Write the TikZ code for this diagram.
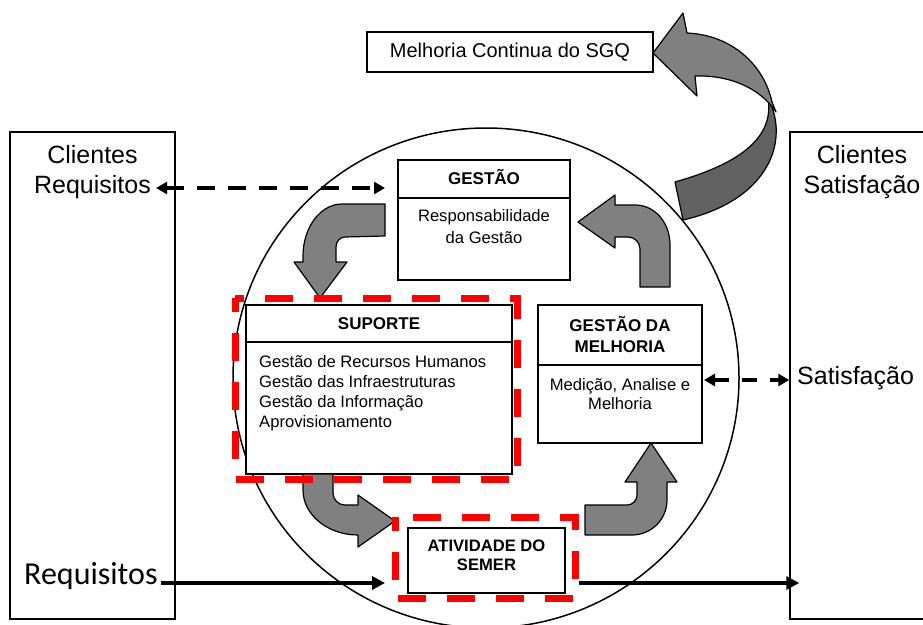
\documentclass[tikz,border=0pt]{standalone}
\usepackage{fontspec}
\setmainfont{Liberation Sans}
\newfontfamily\calibfont{Carlito}
\usetikzlibrary{arrows.meta}
\definecolor{blockgray}{RGB}{128,128,128}
\definecolor{blockdark}{RGB}{98,98,98}
\definecolor{markred}{RGB}{255,0,0}

\begin{document}
\begin{tikzpicture}[x=1pt,y=-1pt,
  frame/.style={draw, line width=1.5pt, fill=white, inner sep=0pt},
  stepbox/.style={draw, line width=2pt, fill=white, inner sep=0pt},
  blockarrow/.style={draw, line width=1.2pt, fill=blockgray, line join=round},
  focus/.style={draw=markred, line width=7pt, dash pattern=on 28pt off 21pt, dash phase=14pt},
  txt/.style={inner sep=0pt, anchor=base},
  txtw/.style={inner sep=0pt, anchor=base west},
  bigfont/.style={font=\fontsize{25}{30}\selectfont},
  bodyfont/.style={font=\fontsize{16.6}{20}\selectfont},
  headfont/.style={font=\fontsize{17}{21}\selectfont\bfseries},
  flow/.style={line width=4pt, -{Triangle[length=13pt,width=13pt]}},
  dashflowA/.style={line width=3.5pt, dash pattern=on 18pt off 13pt,
    {Triangle[length=11pt,width=12pt]}-{Triangle[length=11pt,width=12pt]}},
  dashflowB/.style={line width=3.5pt, dash pattern=on 15pt off 13pt,
    {Triangle[length=11pt,width=12pt]}-{Triangle[length=11pt,width=12pt]}},
]
\useasboundingbox (0,0) rectangle (923,624);
\clip (0,0) rectangle (923,624);
\fill[white] (0,0) rectangle (923,624);

% outer client boxes
\node[frame, minimum width=165pt, minimum height=487pt] (lbox) at (92.5,375.5) {};
\node[frame, minimum width=160pt, minimum height=487pt] (rbox) at (870,375.5) {};
\node[txt, bigfont] (lcl) at (92.5,163) {Clientes};
\node[txt, bigfont] (reqt) at (92.5,193) {Requisitos};
\node[txt, bigfont] (rcl) at (862,163) {Clientes};
\node[txt, bigfont] (rsat) at (862,193) {Satisfação};
\node[txtw, bigfont] (sat) at (797,384) {Satisfação};
\node[txtw, font=\calibfont\fontsize{32}{38}\selectfont] (reqb) at (24,584) {Requisitos};

% process circle
\draw[line width=1.5pt] (486,378) ellipse [x radius=253pt, y radius=250pt];

% continual improvement box
\node[draw, line width=2.5pt, fill=white, minimum width=286pt, minimum height=40pt,
      inner sep=0pt, font=\fontsize{20}{24}\selectfont] (mcs) at (510,52) {Melhoria Continua do SGQ};

% twisted improvement arrow
\fill[blockdark, draw=black, line width=1.2pt, line join=round]
  (768,98) .. controls (790,140) and (770,200) .. (683,220)
  -- (675,182) .. controls (735,165) and (775,140) .. (768,98) -- cycle;
\fill[blockgray, draw=black, line width=1.2pt, line join=round]
  (687,33) .. controls (732,35) and (764,65) .. (772,102)
  -- (776,112) .. controls (760,88) and (730,75) .. (695,76)
  -- (697,96) -- (653,53) -- (683,13) -- cycle;

% process boxes
\node[stepbox, minimum width=172pt, minimum height=120pt] (gestao) at (484,220) {};
\draw[line width=2pt] ([yshift=-39pt]gestao.north west) -- ([yshift=-39pt]gestao.north east);
\node[txt, headfont] (g1) at (484,184) {GESTÃO};
\node[txt, bodyfont] (g2) at (484,221) {Responsabilidade};
\node[txt, bodyfont] (g3) at (484,243) {da Gestão};

\node[stepbox, minimum width=266pt, minimum height=169pt] (suporte) at (379,389.5) {};
\draw[line width=2pt] ([yshift=-38pt]suporte.north west) -- ([yshift=-38pt]suporte.north east);
\node[txt, headfont] (s0) at (379,329) {SUPORTE};
\node[txtw, bodyfont] (s1) at (259,367) {Gestão de Recursos Humanos};
\node[txtw, bodyfont] (s2) at (259,387) {Gestão das Infraestruturas};
\node[txtw, bodyfont] (s3) at (259,407) {Gestão da Informação};
\node[txtw, bodyfont] (s4) at (259,427) {Aprovisionamento};

\node[stepbox, minimum width=164pt, minimum height=138pt] (melhoria) at (620,374) {};
\draw[line width=2pt] ([yshift=-61pt]melhoria.north west) -- ([yshift=-61pt]melhoria.north east);
\node[txt, headfont] (m1) at (620,331) {GESTÃO DA};
\node[txt, headfont] (m2) at (620,352) {MELHORIA};
\node[txt, bodyfont] (m3) at (620,390) {Medição, Analise e};
\node[txt, bodyfont] (m4) at (620,409) {Melhoria};

\node[stepbox, minimum width=157pt, minimum height=65pt] (atv) at (486.5,560.5) {};
\node[txt, font=\fontsize{16.6}{20}\selectfont\bfseries] (a1) at (486.5,551) {ATIVIDADE DO};
\node[txt, font=\fontsize{16.6}{20}\selectfont\bfseries] (a2) at (486.5,570) {SEMER};

% cycle arrows between the boxes
\path[blockarrow] % GESTAO -> SUPORTE
  (385,204) -- (342,204) .. controls (320.5,204) and (303,227.3) .. (303,256)
  -- (303,262) -- (294,262) -- (320,298) -- (347,262) -- (336,262) -- (336,247)
  .. controls (336,241.5) and (340,237) .. (345,237) -- (385,236) -- cycle;
\path[blockarrow] % SUPORTE -> ATIVIDADE
  (303,474) -- (303,490) .. controls (303,514.8) and (327.6,535) .. (358,535)
  -- (358,547) -- (395,521) -- (358,495) -- (358,505) -- (345,505)
  .. controls (338.4,505) and (333,499.6) .. (333,493) -- (333,474) -- cycle;
\path[blockarrow] % ATIVIDADE -> MELHORIA
  (585,505) -- (627,505) .. controls (632.5,505) and (637,500.5) .. (637,495)
  -- (637,482) -- (625,482) -- (651,443) -- (677,482) -- (667,482) -- (667,500)
  .. controls (667,519.3) and (651.3,535) .. (632,535) -- (585,535) -- cycle;
\path[blockarrow] % MELHORIA -> GESTAO
  (670,287) -- (670,245) .. controls (670,223) and (655.3,205) .. (635,205)
  -- (615,205) -- (615,195) -- (578,222) -- (615,248) -- (615,237) -- (628,237)
  .. controls (634.6,237) and (640,242.4) .. (640,249) -- (640,287) -- cycle;

% highlighted areas
\draw[focus] (235,298) rectangle (517,479);
\draw[focus] (395,517) rectangle (575,598);

% information flows
\coordinate (row1) at (0,188);
\coordinate (row2) at (0,380);
\coordinate (row3) at (0,583);
\draw[dashflowA, shorten <=5pt, shorten >=12pt] (reqt.east |- row1) -- (gestao.west |- row1);
\draw[dashflowB, shorten <=1pt] (melhoria.east |- row2) -- (rbox.west |- row2);
\draw[flow, shorten <=3pt, shorten >=22pt] (reqb.east |- row3) -- (atv.west |- row3);
\draw[flow, shorten <=13pt, shorten >=-10pt] (atv.east |- row3) -- (rbox.west |- row3);
\end{tikzpicture}
\end{document}
